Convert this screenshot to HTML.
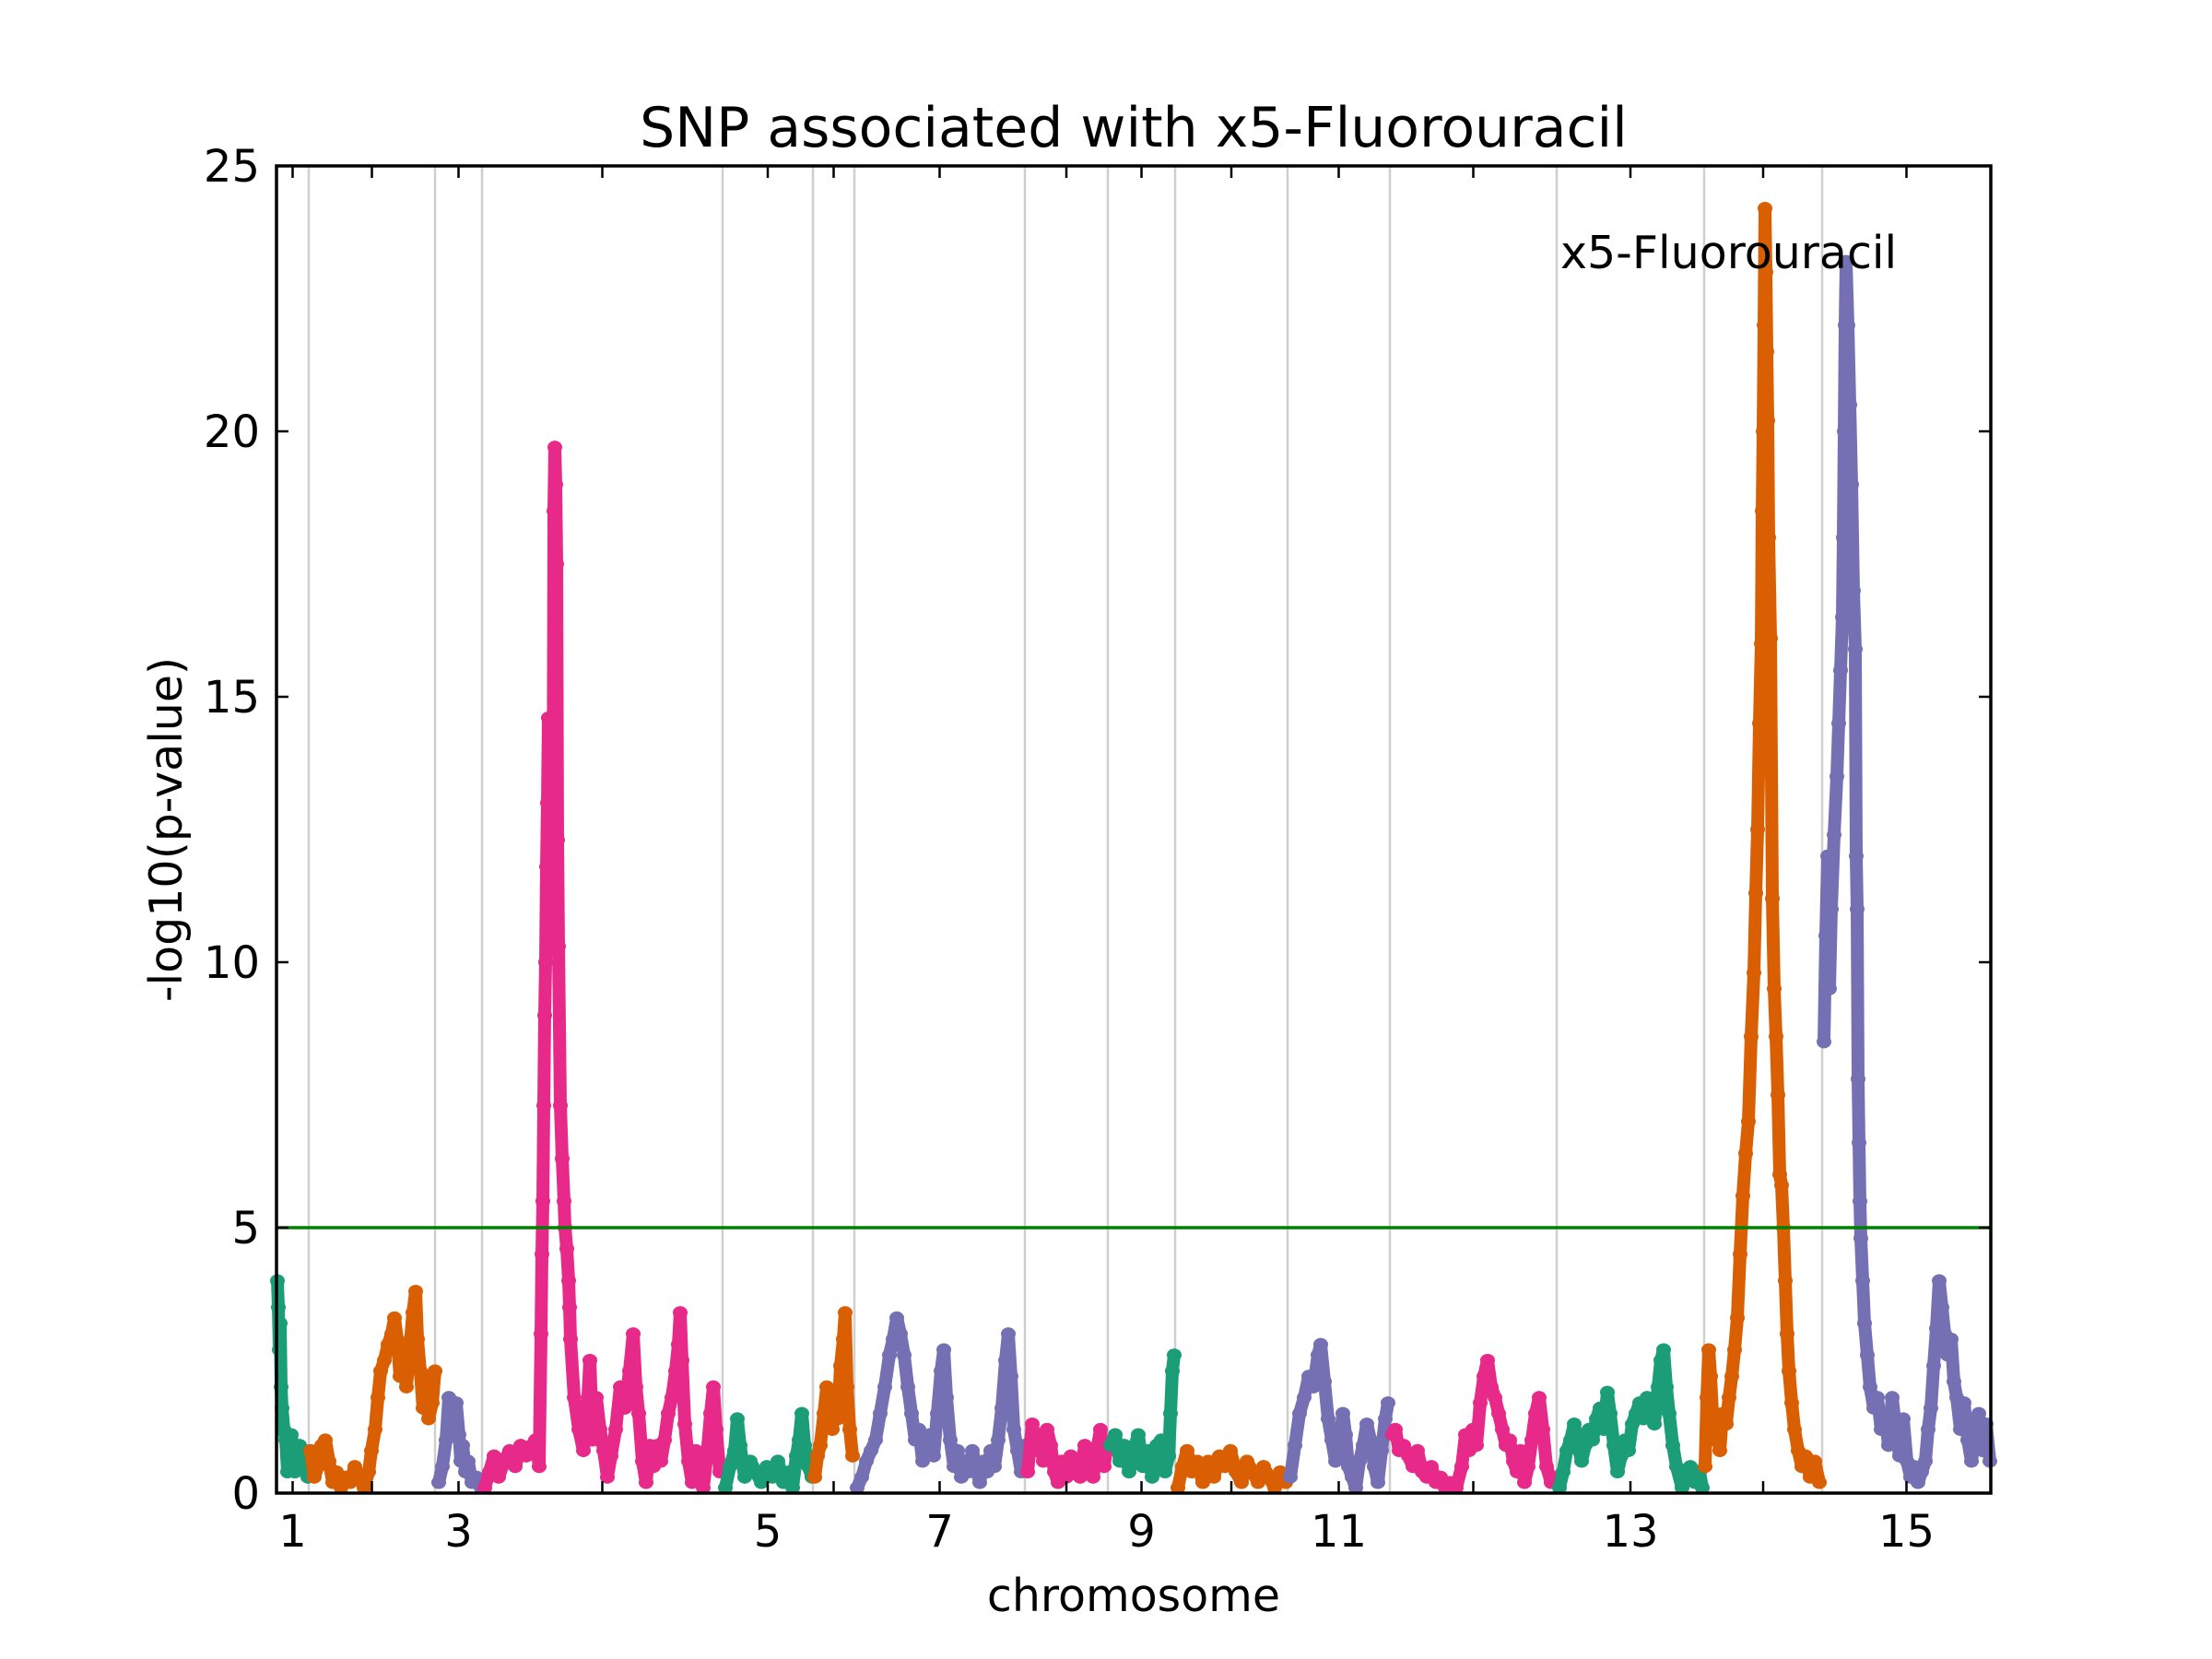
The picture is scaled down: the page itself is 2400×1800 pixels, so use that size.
<!DOCTYPE html>
<html><head><meta charset="utf-8"><style>
html,body{margin:0;padding:0;background:#fff;}
svg{display:block;font-family:"DejaVu Sans","Liberation Sans",sans-serif;}
</style></head><body>
<svg id="chart" width="2400" height="1800" viewBox="0 0 2400 1800" xmlns="http://www.w3.org/2000/svg">
<rect x="0" y="0" width="2400" height="1800" fill="#fff"/>
<text x="1230" y="159" font-size="60" text-anchor="middle">SNP associated with x5-Fluorouracil</text>
<g id="grid"></g>
<g id="marks"></g>
<g id="axes"></g>
<text x="1230" y="1748" font-size="49" text-anchor="middle">chromosome</text>
<text transform="translate(197,900) rotate(-90)" font-size="49" text-anchor="middle">-log10(p-value)</text>
<text x="1693" y="291" font-size="49">x5-Fluorouracil</text>
</svg>
<script>
const chromNames = ["1","2","3","4","5","6","7","8","9","10","11","12","13","14","15"];
const chromLengths = [35,137,51,261,98,45,185,90,73,122,111,181,160,128,183];
const chromColors = ["#1b9e77","#d95f02","#7570b3","#e7298a"];
const yTicks = [0,5,10,15,20,25];
const threshold = 5;
const chr1 = [[1,4.0],[2,3.5],[3,2.7],[4,3.2],[5,2.0],[6,1.6],[8,1.2],[10,1.0],[12,0.4],[14,0.9],[16,1.1],[18,0.8],[20,0.4],[22,0.6],[25,0.9],[28,0.5],[31,0.8],[34,0.3]];
const chr2 = [[2,0.8],[6,0.3],[10,0.5],[14,0.9],[18,1.0],[22,0.6],[26,0.2],[30,0.4],[35,0.1],[40,0.3],[45,0.2],[50,0.5],[55,0.3],[60,0.1],[65,0.4],[68,0.8],[72,1.2],[75,1.8],[78,2.3],[82,2.5],[86,2.8],[90,3.0],[93,3.3],[96,2.9],[99,2.2],[102,2.6],[106,2.0],[110,2.8],[113,3.4],[116,3.8],[118,2.9],[121,2.3],[124,1.6],[127,2.2],[130,1.4],[134,1.7],[137,2.3]];
const chr3 = [[4,0.2],[8,0.5],[12,1.0],[15,1.8],[18,1.6],[20,1.3],[23,1.7],[26,1.1],[28,0.6],[30,0.9],[33,0.4],[36,0.6],[40,0.2],[45,0.3],[50,0.1]];
const chr4 = [[3,0.1],[8,0.4],[13,0.7],[18,0.3],[24,0.6],[30,0.8],[36,0.5],[42,0.9],[48,0.7],[54,0.9],[58,1.0],[62,0.5],[64,3.0],[65,4.5],[66,5.5],[67,7.3],[68,9.0],[69,10.0],[70,11.8],[71,13.0],[72,14.6],[74,11.6],[75,13.3],[76,10.5],[77,12.0],[78,18.5],[79,19.7],[80,19.0],[81,17.5],[82,12.3],[83,10.3],[85,7.3],[87,6.3],[89,5.5],[90,5.0],[92,4.6],[94,4.0],[95,3.5],[96,2.9],[100,1.8],[105,1.2],[110,0.8],[114,1.5],[117,2.5],[120,1.0],[124,1.8],[128,1.2],[132,0.8],[136,0.3],[140,0.7],[145,1.2],[150,2.0],[155,1.6],[160,2.3],[164,3.0],[167,2.0],[170,1.5],[174,0.6],[178,0.2],[182,0.9],[186,0.5],[190,0.9],[194,0.6],[198,1.0],[202,1.5],[206,1.8],[210,2.3],[213,2.8],[215,3.4],[217,2.5],[220,1.3],[224,0.6],[228,0.2],[232,0.8],[236,0.4],[240,0.1],[244,0.7],[248,1.5],[251,2.0],[254,1.2],[258,0.4]];
const chr5 = [[3,0.1],[8,0.5],[13,0.8],[16,1.4],[19,0.9],[24,0.3],[30,0.6],[36,0.4],[42,0.2],[48,0.5],[54,0.3],[60,0.6],[66,0.2],[72,0.4],[76,0.1],[80,0.7],[83,1.0],[86,1.5],[89,0.9],[93,0.5],[97,0.3]];
const chr6 = [[2,0.3],[5,0.7],[8,0.9],[12,1.5],[15,2.0],[18,1.6],[21,1.2],[24,1.8],[27,1.4],[30,2.4],[33,2.9],[35,3.4],[37,2.0],[40,1.2],[43,0.7]];
const chr7 = [[3,0.1],[8,0.3],[13,0.6],[18,0.8],[23,1.0],[28,1.5],[33,2.0],[38,2.6],[42,2.9],[46,3.3],[50,3.0],[54,2.6],[58,2.0],[62,1.5],[66,1.0],[70,1.2],[74,0.6],[78,0.9],[82,1.1],[86,0.7],[90,1.5],[94,2.3],[97,2.7],[100,1.8],[104,1.0],[108,0.5],[112,0.8],[116,0.3],[120,0.6],[124,0.4],[128,0.8],[132,0.5],[136,0.2],[140,0.6],[144,0.4],[148,0.8],[152,0.5],[156,1.0],[160,1.6],[164,2.5],[167,3.0],[170,2.2],[173,1.2],[177,0.8],[181,0.4],[184,0.9]];
const chr8 = [[3,0.4],[8,1.3],[12,0.8],[16,1.1],[20,0.6],[24,1.2],[28,0.9],[32,0.4],[36,0.2],[40,0.6],[45,0.3],[50,0.7],[55,0.5],[60,0.3],[65,0.9],[70,0.6],[74,0.3],[78,0.8],[82,1.2],[86,0.5],[89,0.9]];
const chr9 = [[3,0.9],[8,1.1],[13,0.6],[18,0.9],[23,0.4],[28,0.8],[33,1.1],[38,0.5],[43,0.8],[48,0.3],[53,0.9],[58,1.0],[62,0.4],[66,0.7],[68,1.5],[70,2.3],[72,2.6]];
const chr10 = [[3,0.1],[8,0.5],[13,0.8],[18,0.4],[24,0.6],[30,0.2],[36,0.6],[42,0.3],[48,0.7],[54,0.5],[60,0.8],[66,0.4],[72,0.2],[78,0.6],[84,0.4],[90,0.2],[96,0.5],[102,0.3],[108,0.1],[114,0.4],[120,0.2]];
const chr11 = [[3,0.3],[8,0.9],[13,1.5],[18,1.8],[23,2.2],[28,2.0],[33,2.6],[36,2.8],[40,2.1],[44,1.4],[48,1.0],[52,0.6],[56,0.9],[60,1.5],[63,1.1],[66,0.5],[70,0.3],[74,0.1],[78,0.6],[82,0.9],[86,1.3],[90,1.0],[94,0.5],[98,0.2],[102,0.8],[106,1.4],[109,1.7]];
const chr12 = [[3,1.1],[6,1.2],[10,0.8],[15,0.9],[20,0.7],[25,0.5],[30,0.8],[35,0.4],[40,0.3],[45,0.5],[50,0.2],[55,0.3],[60,0.1],[65,0.2],[72,0.1],[78,0.5],[82,1.1],[86,0.8],[90,1.2],[94,0.9],[98,1.7],[102,2.2],[106,2.5],[110,2.0],[114,1.8],[118,1.5],[122,1.2],[126,0.9],[130,1.0],[134,0.6],[138,0.4],[142,0.8],[146,0.2],[150,0.5],[154,1.0],[158,1.5],[162,1.8],[166,1.2],[170,0.5],[175,0.2],[180,0.3]];
const chr13 = [[3,0.1],[7,0.4],[11,0.8],[15,1.0],[19,1.3],[23,0.9],[27,0.6],[31,0.9],[35,1.2],[39,1.0],[43,1.4],[47,1.6],[51,1.2],[55,1.9],[58,1.5],[62,0.9],[66,0.4],[70,0.7],[74,1.0],[78,0.8],[82,1.3],[86,1.5],[90,1.7],[94,1.4],[98,1.8],[102,1.6],[106,1.3],[110,2.0],[113,2.5],[116,2.7],[119,2.0],[122,1.5],[126,0.9],[130,0.5],[136,0.1],[140,0.3],[145,0.5],[150,0.2],[155,0.4],[158,0.1]];
const chr14 = [[1,0.5],[3,1.8],[5,2.7],[7,2.2],[9,1.5],[11,1.0],[14,1.3],[17,0.8],[20,1.5],[24,1.3],[27,1.8],[30,2.2],[33,2.7],[36,3.3],[39,4.5],[42,5.6],[45,6.4],[48,7.0],[51,8.6],[54,9.8],[56,11.3],[58,12.5],[60,14.5],[62,16.0],[63,18.5],[64,20.0],[65,22.0],[66,24.2],[67,23.0],[68,21.5],[69,20.2],[70,18.0],[72,16.1],[74,11.2],[76,9.5],[78,8.6],[80,7.5],[82,6.0],[84,5.8],[86,5.0],[88,4.0],[90,3.0],[92,2.3],[95,1.7],[98,1.2],[102,0.8],[106,0.5],[110,0.7],[115,0.3],[120,0.6],[125,0.2]];
const chr15 = [[2,8.5],[4,10.5],[6,12.0],[8,9.5],[10,11.0],[13,12.4],[16,13.5],[18,14.5],[20,15.5],[22,16.5],[23,18.0],[24,20.0],[25,22.0],[26,23.2],[28,22.0],[30,20.5],[32,19.0],[34,17.0],[36,15.9],[37,12.0],[38,11.0],[39,7.8],[40,6.6],[41,5.5],[42,4.8],[44,4.0],[46,3.2],[49,2.6],[52,2.0],[56,1.6],[60,1.8],[64,1.2],[68,1.5],[72,0.9],[76,1.8],[80,1.2],[84,0.7],[88,1.4],[92,0.6],[96,0.3],[100,0.5],[104,0.2],[108,0.4],[112,0.6],[115,1.2],[118,1.6],[121,2.4],[124,3.1],[127,4.0],[130,3.5],[133,3.0],[136,2.6],[140,2.9],[143,2.1],[146,1.8],[150,1.2],[154,1.7],[158,1.0],[162,0.6],[166,1.1],[170,1.5],[174,0.8],[178,1.3],[182,0.6]];
const chromData = [chr1,chr2,chr3,chr4,chr5,chr6,chr7,chr8,chr9,chr10,chr11,chr12,chr13,chr14,chr15];

const NS = "http://www.w3.org/2000/svg";
const L = 300, R = 2160, T = 180, B = 1620;
const total = chromLengths.reduce((a,b)=>a+b,0);
const offsets = [];
let acc = 0;
for (const len of chromLengths) { offsets.push(acc); acc += len; }
function xScale(ci, pos) { return L + (offsets[ci] + pos) / total * (R - L); }
function yScale(v) { return B - v / 25 * (B - T); }
function mk(tag, attrs, parent) { const e = document.createElementNS(NS, tag); for (const k in attrs) e.setAttribute(k, attrs[k]); parent.appendChild(e); return e; }

const grid = document.getElementById('grid');
const marks = document.getElementById('marks');
const axes = document.getElementById('axes');

for (let i = 1; i < chromLengths.length; i++) {
  const x = xScale(i, 0);
  const g = mk('line', {x1:x, x2:x, y1:T, y2:B, stroke:'#cfcfcf', 'stroke-width':2.5}, grid);
  
  
}

chromData.forEach((pts, ci) => {
  const col = chromColors[ci % 4];
  const grp = mk('g', {}, marks);
  
  
  const d = pts.map((p, k) => (k ? 'L' : 'M') + xScale(ci, p[0]).toFixed(1) + ' ' + yScale(p[1]).toFixed(1)).join(' ');
  const path = mk('path', {d:d, fill:'none', stroke:col, 'stroke-width':14, 'stroke-linejoin':'round', 'stroke-linecap':'round'}, grp);
  
  
  pts.forEach(p => {
    const c = mk('ellipse', {cx:xScale(ci, p[0]).toFixed(1), cy:yScale(p[1]).toFixed(1), rx:8, ry:7, fill:col}, grp);
    
    
  });
});

const th = mk('line', {x1:L, x2:R, y1:yScale(threshold), y2:yScale(threshold), stroke:'#008000', 'stroke-width':3.5}, marks);



const frame = mk('rect', {x:L, y:T, width:R-L, height:B-T, fill:'none', stroke:'#000', 'stroke-width':3.5}, axes);



yTicks.forEach(v => {
  const y = yScale(v);
  const t1 = mk('line', {x1:L, x2:L+13, y1:y, y2:y, stroke:'#000', 'stroke-width':2.5}, axes);
  
  
  const t2 = mk('line', {x1:R-13, x2:R, y1:y, y2:y, stroke:'#000', 'stroke-width':2.5}, axes);
  
  
  const lb = mk('text', {x:282, y:y+17, 'font-size':48, 'text-anchor':'end'}, axes);
  lb.textContent = String(v);
  
  
});

chromNames.forEach((n, ci) => {
  const x = xScale(ci, chromLengths[ci] / 2);
  const t1 = mk('line', {x1:x, x2:x, y1:B, y2:B-13, stroke:'#000', 'stroke-width':2.5}, axes);
  
  
  const t2 = mk('line', {x1:x, x2:x, y1:T, y2:T+13, stroke:'#000', 'stroke-width':2.5}, axes);
  
  
  if (ci % 2 === 0) {
    const lb = mk('text', {x:x, y:1678, 'font-size':48, 'text-anchor':'middle'}, axes);
    lb.textContent = n;
    
    
  }
});
</script>
</body></html>
